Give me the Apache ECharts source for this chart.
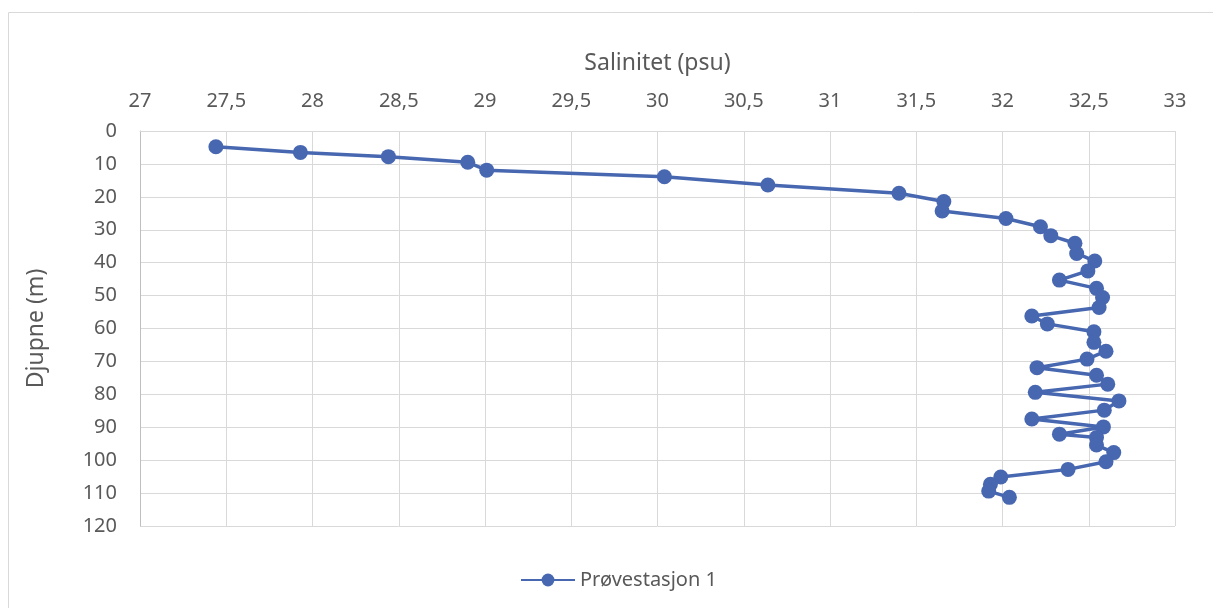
<!DOCTYPE html>
<html><head><meta charset="utf-8">
<script src="https://cdn.jsdelivr.net/npm/echarts@6/dist/echarts.min.js"></script>
<style>html,body{margin:0;padding:0;background:#fff}#c{width:1213px;height:608px}</style>
</head><body><div id="c"></div>
<script>
const seriesName = 'Prøvestasjon 1';
const salinity = [27.44, 27.93, 28.44, 28.90, 29.01, 30.04, 30.64, 31.40, 31.66, 31.65, 32.02, 32.22, 32.28, 32.42, 32.43, 32.535, 32.495, 32.33, 32.545, 32.58, 32.56, 32.17, 32.26, 32.53, 32.53, 32.60, 32.49, 32.20, 32.545, 32.61, 32.19, 32.675, 32.59, 32.17, 32.585, 32.33, 32.545, 32.545, 32.645, 32.60, 32.38, 31.99, 31.93, 31.92, 32.04];
const depth = [4.8, 6.5, 7.8, 9.5, 11.9, 13.9, 16.4, 18.9, 21.4, 24.3, 26.6, 29.1, 31.8, 34.1, 37.2, 39.5, 42.5, 45.3, 47.8, 50.6, 53.6, 56.2, 58.6, 61.0, 64.2, 66.9, 69.3, 71.9, 74.2, 76.9, 79.4, 82.0, 84.8, 87.5, 89.9, 92.1, 93.1, 95.4, 97.7, 100.5, 102.8, 105.1, 107.3, 109.4, 111.3];
const xTitle = 'Salinitet (psu)';
const yTitle = 'Djupne (m)';

const chart = echarts.init(document.getElementById('c'));
const font = 'Noto Sans';
const txt = '#595959';
chart.setOption({
  animation: false,
  textStyle: {fontFamily: font},
  graphic: [{type: 'rect', shape: {x: 8.5, y: 12.5, width: 1210, height: 600}, style: {fill: 'none', stroke: '#d9d9d9', lineWidth: 1}}],
  grid: {left: 140, right: 38, top: 131, bottom: 82},
  legend: {top: 565, left: 515, itemWidth: 54, itemHeight: 16, itemGap: 6,
    textStyle: {fontSize: 20, color: txt, fontFamily: font}, data: [seriesName]},
  xAxis: {
    type: 'value', position: 'top', min: 27, max: 33, interval: 0.5,
    name: xTitle, nameLocation: 'middle', nameGap: 56,
    nameTextStyle: {fontSize: 23, color: txt, fontFamily: font},
    axisLine: {show: true, lineStyle: {color: '#d9d9d9'}},
    axisTick: {show: false},
    axisLabel: {fontSize: 20, color: txt, margin: 20, fontFamily: font, formatter: v => String(v).replace('.', ',')},
    splitLine: {show: true, lineStyle: {color: '#d9d9d9', width: 1}}
  },
  yAxis: {
    type: 'value', inverse: true, min: 0, max: 120, interval: 10,
    name: yTitle, nameLocation: 'middle', nameGap: 92, nameRotate: 90,
    nameTextStyle: {fontSize: 23, color: txt, fontFamily: font},
    axisLine: {show: true, lineStyle: {color: '#bfbfbf'}},
    axisTick: {show: false},
    axisLabel: {fontSize: 20, color: txt, margin: 23, fontFamily: font},
    splitLine: {show: true, lineStyle: {color: '#d9d9d9', width: 1}}
  },
  series: [{
    name: seriesName, type: 'line',
    data: salinity.map((s, i) => [s, depth[i]]),
    symbol: 'circle', symbolSize: 15, showAllSymbol: true,
    itemStyle: {color: '#4767B0'},
    lineStyle: {color: '#4767B0', width: 3.5}
  }]
});
</script></body></html>
